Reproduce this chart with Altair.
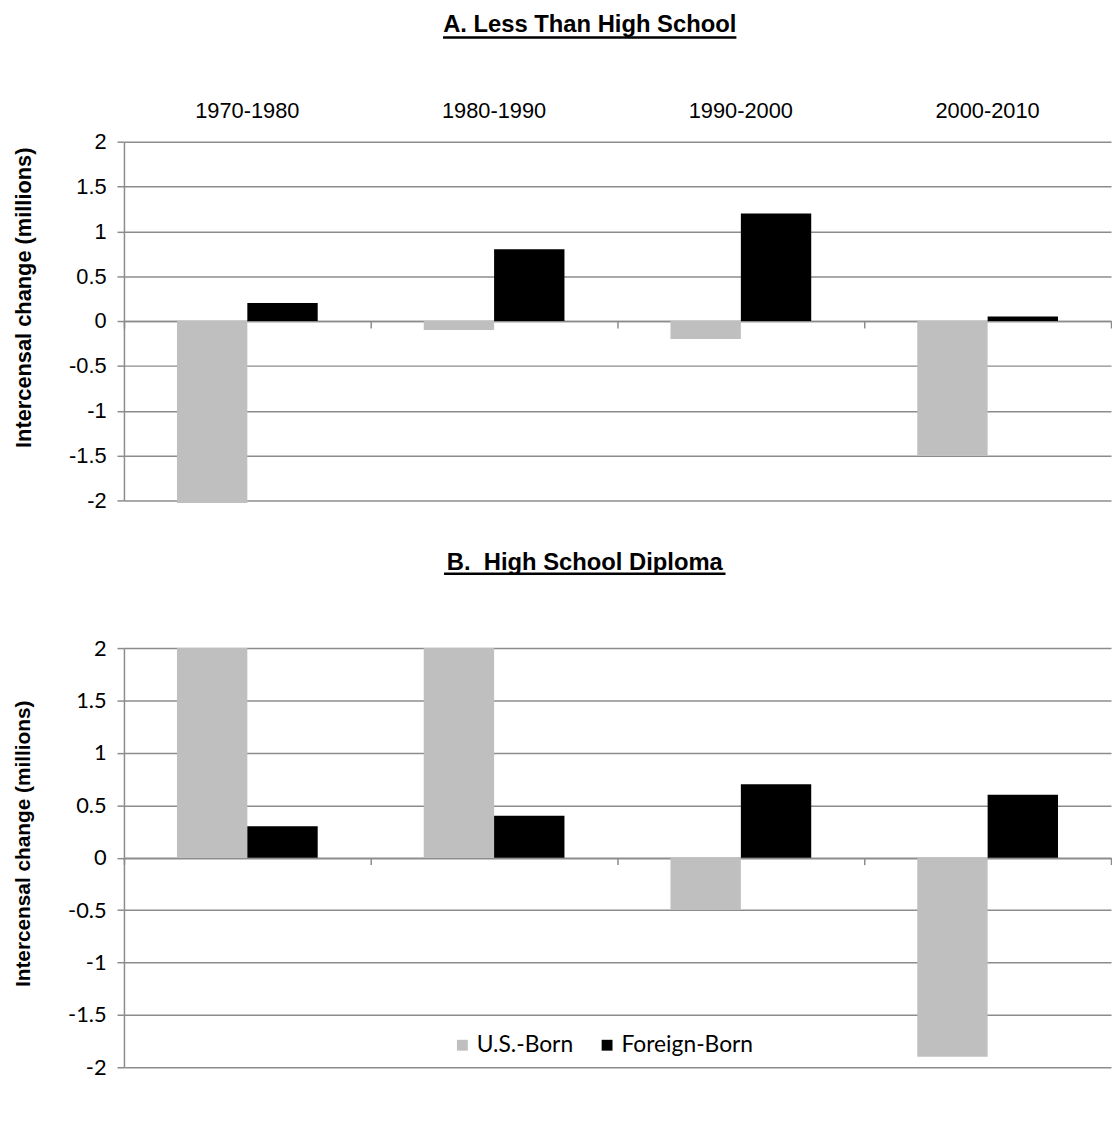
import altair as alt
import pandas as pd

periods = ["1970-1980", "1980-1990", "1990-2000", "2000-2010"]
groups = ["U.S.-Born", "Foreign-Born"]
a_us = [-2.03, -0.1, -0.2, -1.5]
a_fb = [0.2, 0.8, 1.2, 0.05]
b_us = [2.0, 2.0, -0.5, -1.9]
b_fb = [0.3, 0.4, 0.7, 0.6]
y_ticks = [-2, -1.5, -1, -0.5, 0, 0.5, 1, 1.5, 2]
title_a = "A. Less Than High School"
title_b = "B.\u00a0 High School Diploma"
y_title = "Intercensal change (millions)"


def frame(us, fb):
    rows = []
    for p, u, f in zip(periods, us, fb):
        rows.append({"period": p, "group": groups[0], "value": u})
        rows.append({"period": p, "group": groups[1], "value": f})
    return pd.DataFrame(rows)


W = 996
HA = 362
HB = 423
GRID = "#8c8c8c"

xscale = alt.Scale(domain=periods, paddingInner=0, paddingOuter=0)
xoff = alt.Scale(domain=groups, paddingInner=0, paddingOuter=0.7535)
cscale = alt.Scale(domain=groups, range=["#bfbfbf", "#000000"])
yscale = alt.Scale(domain=[-2, 2], nice=False, zero=False)


def yaxis(font, title_size, title_y):
    return alt.Axis(
        values=y_ticks, labelExpr="datum.value + ''", grid=True,
        gridColor=GRID, domainColor=GRID, tickColor=GRID, tickSize=7,
        gridWidth=1.5, domainWidth=1.5, tickWidth=1.5,
        labelFont=font, labelFontSize=22, labelColor="black", labelPadding=11,
        title=y_title, titleFont="Liberation Sans", titleFontWeight="bold",
        titleFontSize=title_size, titleColor="black", titleAngle=270,
        titleAlign="center", titleBaseline="middle", titleX=-101, titleY=title_y,
    )


def zero_axis(h):
    return alt.Axis(
        orient="bottom", offset=-h / 2, labels=False, title=None, grid=False,
        domainColor=GRID, domainWidth=1.5, tickColor=GRID, tickWidth=1.5,
        tickSize=7, tickBand="extent",
    )


def panel(us, fb, h, font, title, tx, ty, ux1, ux2, uy, title_y, title_size, top_labels, legend):
    df = frame(us, fb)
    base = alt.Chart(df)
    bars = base.mark_bar(strokeWidth=0).encode(
        x=alt.X("period:N", scale=xscale, axis=zero_axis(h), sort=periods),
        xOffset=alt.XOffset("group:N", scale=xoff, sort=groups),
        y=alt.Y("value:Q", scale=yscale, axis=yaxis(font, title_size, title_y)),
        color=alt.Color("group:N", scale=cscale, sort=groups, legend=legend),
    )
    layers = [bars]
    if top_labels:
        pdf = pd.DataFrame({"period": periods})
        cats = alt.Chart(pdf).mark_text(
            font="Liberation Sans", fontSize=22, color="black", baseline="middle"
        ).encode(
            x=alt.X("period:N", scale=xscale, sort=periods),
            y=alt.value(-31), text="period:N",
        )
        layers.append(cats)
    tdf = pd.DataFrame({"t": [title]})
    ttext = alt.Chart(tdf).mark_text(
        font="Liberation Sans", fontWeight="bold", fontSize=24, color="black",
        align="center", baseline="middle",
    ).encode(text="t:N", x=alt.value(tx), y=alt.value(ty))
    uline = alt.Chart(tdf).mark_rule(color="black", strokeWidth=2.5).encode(
        x=alt.value(ux1), x2=alt.value(ux2), y=alt.value(uy)
    )
    layers += [ttext, uline]
    return alt.layer(*layers).properties(width=W, height=h)


legend_b = alt.Legend(
    orient="none", legendX=330, legendY=389, direction="horizontal", title=None,
    symbolType="square", symbolSize=120, symbolStrokeWidth=0, labelFont="Lato",
    labelFontSize=23, labelColor="black", columnPadding=22, labelOffset=3,
)

pa = panel(a_us, a_fb, HA, "Liberation Sans", title_a, 470, -118, 322, 618, -105,
           157, 22, True, None)
pb = panel(b_us, b_fb, HB, "Lato", title_b, 465, -86, 323, 607, -75,
           197, 21, False, legend_b)

chart = alt.vconcat(pa, pb, spacing=40).resolve_scale(color="independent").properties(
    padding={"left": 5, "top": 0, "right": 0, "bottom": 0}, background="white"
).configure_view(stroke=None)

chart.save("out.html", embed_options={"renderer": "svg", "actions": False})
